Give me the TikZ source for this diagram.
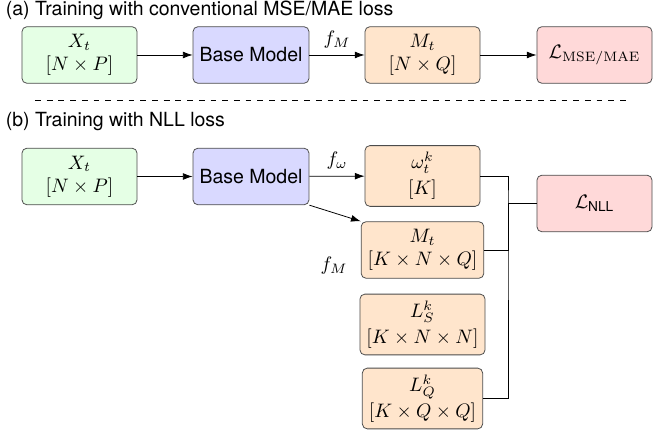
\documentclass[tikz,border=0pt]{standalone}
\usepackage{amsmath}
\usepackage[no-math]{fontspec}
\setsansfont{TeX Gyre Heros}
\usetikzlibrary{arrows.meta}

\begin{document}
\begin{tikzpicture}[x=0.5128pt,y=-0.5128pt,
	box/.style={draw=black!70,rounded corners=2.5pt,minimum width=59pt,minimum height=29pt,align=center,font=\sffamily},
	inbox/.style={box,fill=green!10},
	basebox/.style={box,fill=blue!15},
	outbox/.style={box,fill=orange!20},
	lossbox/.style={box,fill=red!15},
	arr/.style={-{Latex[length=5pt,width=3.5pt]}}]
	\useasboundingbox (0,0) rectangle (661,434);

	% (a) MSE/MAE
	\node[anchor=west,font=\sffamily] (titleA) at (-1,10) {(a) Training with conventional MSE/MAE loss};
	\node[inbox]   (Xa) at (79.5,55)  {$X_t$\\$[N \times P]$};
	\node[basebox] (Ba) at (251,55)   {Base Model};
	\node[outbox]  (Ma) at (422.5,55) {$M_t$\\$[N \times Q]$};
	\node[lossbox] (La) at (594.5,55) {$\mathcal{L}_{\mathrm{MSE/MAE}}$};
	\draw[arr] (Xa) -- (Ba);
	\draw[arr] (Ba) -- node[above] {$f_M$} (Ma);
	\draw[arr] (Ma) -- (La);

	\coordinate (sepL) at (35,100);
	\coordinate (sepR) at (630,100);
	\draw[dashed] (sepL) -- (sepR);

	% (b) NLL
	\node[anchor=west,font=\sffamily] (titleB) at (-1,122) {(b) Training with NLL loss};
	\node[inbox]   (Xb) at (79.5,176.5) {$X_t$\\$[N \times P]$};
	\node[basebox] (Bb) at (251,176.5)  {Base Model};
	\node[outbox]  (Wb) at (422.5,176)  {$\omega_t^k$\\[1.5pt]$[K]$};
	\node[outbox]  (Mb) at (422.5,250)  {$M_t$\\$[K \times N \times Q]$};
	\node[outbox]  (Sb) at (422.5,324.5) {$L_S^k$\\[1.5pt]$[K \times N \times N]$};
	\node[outbox]  (Qb) at (422.5,398.5) {$L_Q^k$\\[1.5pt]$[K \times Q \times Q]$};
	\node[lossbox] (Nb) at (594.5,203.5) {$\mathcal{L}_{\text{\sffamily NLL}}$};
	\node (fM) at (334,266) {$f_M$};

	\draw[arr] (Xb) -- (Bb);
	\draw[arr] (Bb) -- node[above] {$f_\omega$} (Wb);
	\draw[arr] (Bb.south east) -- (Mb.north west);

	\coordinate (bus) at (508,203.5);
	\draw (Wb.east) -| (bus) |- (Qb.east);
	\draw (Mb.east) -| (bus);
	\draw (bus) -- (Nb.west);
\end{tikzpicture}
\end{document}
